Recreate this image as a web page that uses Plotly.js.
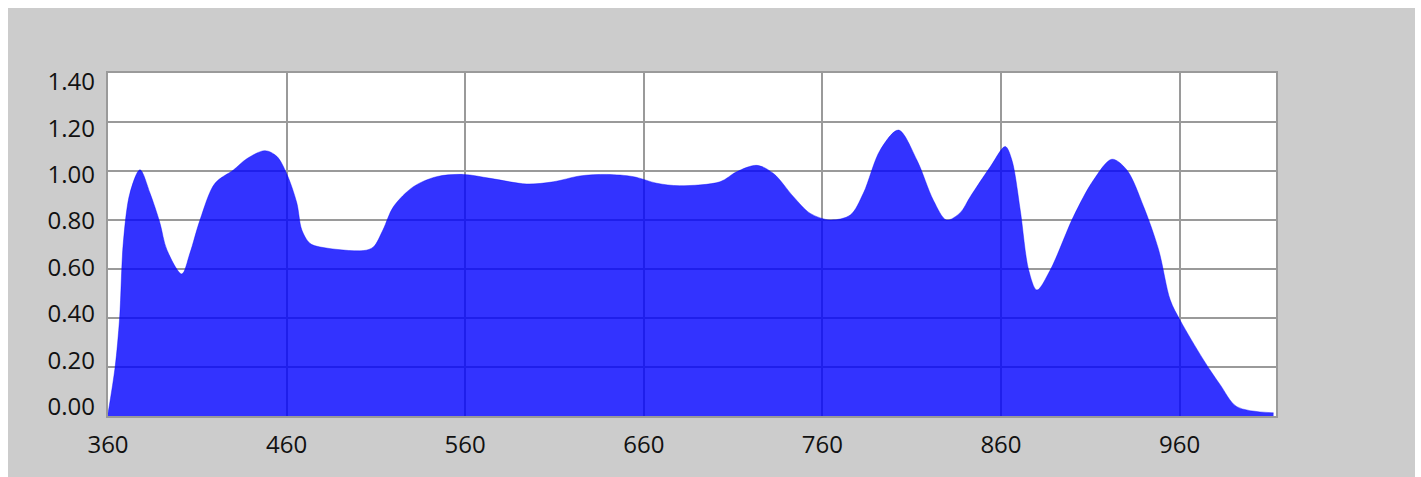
<!DOCTYPE html>
<html>
<head>
<meta charset="utf-8">
<script src="https://cdn.plot.ly/plotly-3.0.1.min.js"></script>
<style>
  html, body { margin: 0; padding: 0; background: #ffffff; }
  #chart { position: absolute; left: 8px; top: 8px; width: 1407px; height: 469px; }
</style>
</head>
<body>
<div id="chart"></div>
<script>
// Wavelength (nm)
const wavelengths = [
  360, 364, 366.5, 368.6, 372.3, 377.9, 383.5, 389, 392.9, 401.3,
  405.9, 411.5, 419.9, 430.2, 437.7, 447.9, 454.5, 460, 465.7, 468.5,
  473, 478.7, 503, 508.6, 514, 519.8, 531, 544, 559, 574,
  594.5, 609.4, 624.3, 639.3, 654.2, 667.3, 680, 702.7, 712, 723.3,
  732.6, 743.8, 753.2, 764.4, 775.6, 783, 792.4, 802.6, 812.9, 822.2,
  829.5, 837.2, 842.8, 854, 862.4, 866.1, 870.8, 875.5, 880.1, 887.6,
  900.6, 911.8, 922.1, 930.5, 939.9, 948.3, 954.8, 960.4, 973.5, 982.8,
  992.1, 1012.6
];
// Relative intensity
const intensity = [
  0.01, 0.20, 0.40, 0.71, 0.91, 1.005, 0.91, 0.79, 0.68, 0.58,
  0.665, 0.80, 0.95, 1.004, 1.05, 1.083, 1.06, 0.99, 0.87, 0.76,
  0.705, 0.69, 0.675, 0.69, 0.76, 0.854, 0.936, 0.977, 0.986, 0.97,
  0.947, 0.956, 0.98, 0.986, 0.977, 0.95, 0.94, 0.956, 0.997, 1.023,
  0.99, 0.895, 0.827, 0.80, 0.82, 0.91, 1.086, 1.167, 1.045, 0.88,
  0.80, 0.83, 0.895, 1.017, 1.10, 1.045, 0.84, 0.596, 0.514, 0.596,
  0.814, 0.963, 1.048, 1.004, 0.854, 0.678, 0.473, 0.39, 0.228, 0.127,
  0.038, 0.013
];
// Tick labels
const xTickVals = [360, 460, 560, 660, 760, 860, 960];
const xTickText = ['360', '460', '560', '660', '760', '860', '960'];
const yTickVals = [0, 0.2, 0.4, 0.6, 0.8, 1.0, 1.2, 1.4];
const yTickText = ['0.00', '0.20', '0.40', '0.60', '0.80', '1.00', '1.20', '1.40'];

const tickFont = { family: 'Open Sans, sans-serif', size: 24, color: '#111111' };

const traces = [
  {
    x: wavelengths,
    y: intensity,
    type: 'scatter',
    mode: 'lines',
    fill: 'tozeroy',
    fillcolor: 'rgba(0,0,255,0.8)',
    line: { color: 'rgba(0,0,255,0.8)', width: 0.5, shape: 'spline', smoothing: 0.9 },
    hoverinfo: 'x+y',
    showlegend: false
  },
  {
    x: wavelengths,
    y: intensity,
    type: 'scatter',
    mode: 'none',
    yaxis: 'y2',
    hoverinfo: 'skip',
    showlegend: false
  }
];

const layout = {
  width: 1407,
  height: 469,
  margin: { l: 100, r: 139, t: 65, b: 61 },
  paper_bgcolor: '#cccccc',
  plot_bgcolor: '#ffffff',
  showlegend: false,
  xaxis: {
    range: [360, 1014],
    tickvals: xTickVals,
    ticktext: xTickText,
    tickfont: tickFont,
    showgrid: true,
    gridcolor: '#9a9a9a',
    gridwidth: 2,
    zeroline: false,
    showline: true,
    linecolor: '#9a9a9a',
    linewidth: 2,
    mirror: true,
    ticks: '',
    ticklabelstandoff: 6
  },
  yaxis: {
    range: [0, 1.4],
    tickvals: yTickVals,
    showticklabels: false,
    showgrid: true,
    gridcolor: '#9a9a9a',
    gridwidth: 2,
    zeroline: false,
    showline: true,
    linecolor: '#9a9a9a',
    linewidth: 2,
    mirror: true,
    ticks: ''
  },
  yaxis2: {
    overlaying: 'y',
    side: 'left',
    range: [-0.040, 1.4375],
    tickvals: yTickVals,
    ticktext: yTickText,
    tickfont: tickFont,
    showgrid: false,
    zeroline: false,
    showline: false,
    ticks: '',
    ticklabelstandoff: 12
  }
};

Plotly.newPlot('chart', traces, layout, { staticPlot: true, displayModeBar: false });
</script>
</body>
</html>
